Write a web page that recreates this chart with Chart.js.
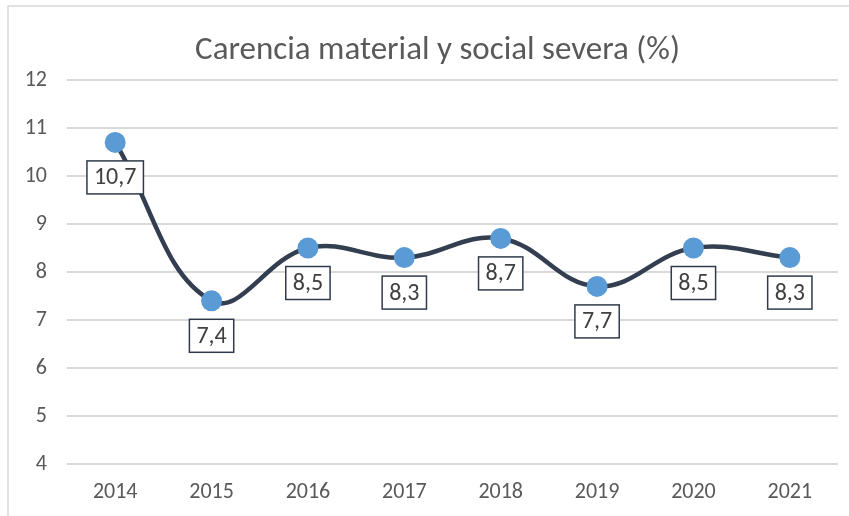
<!DOCTYPE html>
<html>
<head>
<meta charset="utf-8">
<script src="https://cdn.jsdelivr.net/npm/chart.js@4.4.1/dist/chart.umd.min.js"></script>
<style>
  html, body { margin: 0; padding: 0; background: #fff; }
  #wrap { width: 849px; height: 516px; }
</style>
</head>
<body>
<div id="wrap"><canvas id="lineChart"></canvas></div>
<script>
const years = ['2014', '2015', '2016', '2017', '2018', '2019', '2020', '2021'];
const carencia = [10.7, 7.4, 8.5, 8.3, 8.7, 7.7, 8.5, 8.3];
const yTicks = [4, 5, 6, 7, 8, 9, 10, 11, 12];
const titulo = 'Carencia material y social severa (%)';

const FONT = 'Carlito, "Liberation Sans", sans-serif';
const GRAY = '#595959';

// borde gris y título (centrado sobre el marco, no sobre el área del gráfico)
const marco = {
  id: 'marco',
  beforeDraw(chart) {
    const c = chart.ctx;
    c.save();
    c.strokeStyle = '#d9d9d9';
    c.lineWidth = 1.5;
    c.strokeRect(8, 6, chart.width + 10, chart.height + 10);
    c.fillStyle = GRAY;
    c.font = '33px ' + FONT;
    c.textAlign = 'center';
    c.textBaseline = 'middle';
    c.fillText(titulo, (chart.width + 26) / 2, 51);
    c.restore();
  }
};

// etiquetas con recuadro bajo cada punto
const etiquetas = {
  id: 'etiquetas',
  afterDatasetsDraw(chart) {
    const c = chart.ctx;
    const meta = chart.getDatasetMeta(0);
    c.save();
    c.font = '24px ' + FONT;
    c.textAlign = 'center';
    c.textBaseline = 'middle';
    meta.data.forEach((pt, i) => {
      const txt = carencia[i].toFixed(1).replace('.', ',');
      const w = c.measureText(txt).width + 14;
      const h = 33;
      const cx = pt.x, cy = pt.y + 35;
      c.fillStyle = '#fff';
      c.fillRect(cx - w / 2, cy - h / 2, w, h);
      c.strokeStyle = '#2f3b4c';
      c.lineWidth = 1.5;
      c.strokeRect(cx - w / 2, cy - h / 2, w, h);
      c.fillStyle = '#404040';
      c.fillText(txt, cx, cy + 1);
    });
    c.restore();
  }
};

new Chart(document.getElementById('lineChart'), {
  type: 'line',
  data: {
    labels: years,
    datasets: [{
      data: carencia,
      borderColor: '#333f50',
      borderWidth: 4.5,
      tension: 0.4,
      pointRadius: 10.5,
      pointBackgroundColor: '#5b9bd5',
      pointBorderColor: '#5b9bd5',
      pointBorderWidth: 0
    }]
  },
  options: {
    responsive: true,
    maintainAspectRatio: false,
    animation: false,
    layout: { padding: { left: 0, right: 11, top: 80, bottom: 0 } },
    plugins: {
      legend: { display: false },
      tooltip: { enabled: false },
      title: { display: false }
    },
    scales: {
      x: {
        offset: true,
        grid: { display: false, drawTicks: false },
        border: { display: false },
        ticks: { color: GRAY, font: { family: FONT, size: 22 }, padding: 15 },
        afterFit(s) { s.height = 52; }
      },
      y: {
        min: 4,
        max: 12,
        afterBuildTicks(s) { s.ticks = yTicks.map(v => ({ value: v })); },
        grid: { color: '#d9d9d9', lineWidth: 2, drawTicks: false },
        border: { display: false },
        ticks: { color: GRAY, font: { family: FONT, size: 22 }, padding: 20 },
        afterFit(s) { s.width = 67; }
      }
    }
  },
  plugins: [marco, etiquetas]
});
</script>
</body>
</html>
